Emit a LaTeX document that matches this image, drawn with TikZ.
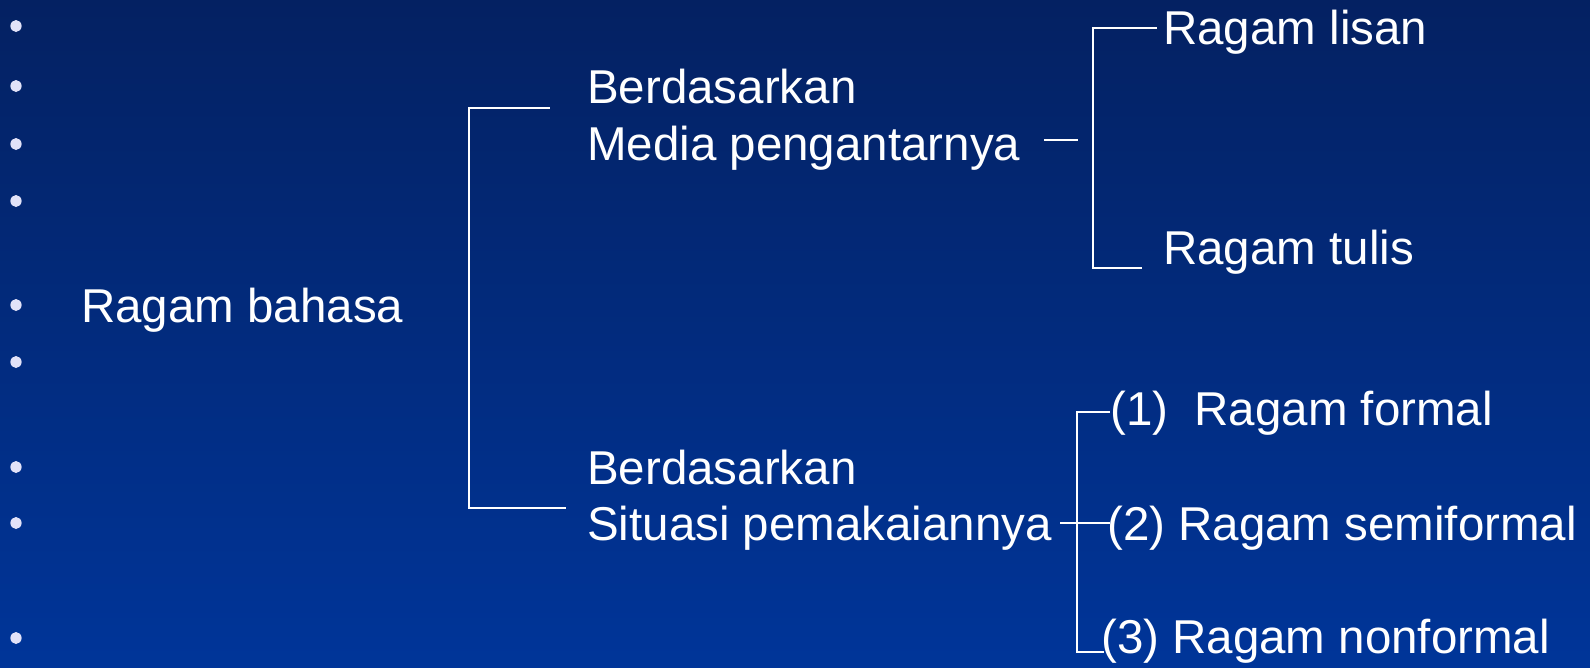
\documentclass[tikz,border=0pt]{standalone}
\usepackage{fontspec}
\setmainfont{Liberation Sans}
\definecolor{bgtop}{RGB}{4,33,98}
\definecolor{bgbot}{RGB}{0,53,153}
\definecolor{bulletc}{RGB}{226,226,248}
\begin{document}
\begin{tikzpicture}[x=1pt,y=-1pt,
  lbl/.style={anchor=base west,inner sep=0pt,text=white,font=\fontsize{47.5}{57}\selectfont},
  link/.style={draw=white,line width=2.3pt,line cap=rect},
  dot/.style={fill=bulletc}]
\shade[top color=bgtop,bottom color=bgbot] (0,0) rectangle (1590,667);
\useasboundingbox (0,0) rectangle (1590,667);
% bullets
\foreach \y in {26,86,144,201,305,362,467,523,638}
  \fill[dot] (16,\y) ellipse [x radius=5.6pt, y radius=6pt];
% texts
\node[lbl] (root) at (81,322) {Ragam bahasa};
\node[lbl] (m1) at (587,103) {Berdasarkan};
\node[lbl] (m2) at (587,160) {Media pengantarnya};
\node[lbl] (s1) at (587,484) {Berdasarkan};
\node[lbl] (s2) at (587,540) {Situasi pemakaiannya};
\node[lbl] (lisan) at (1163,44) {Ragam lisan};
\node[lbl] (tulis) at (1163,264) {Ragam tulis};
\node[lbl] (f1) at (1110,425) {(1)\ \ Ragam formal};
\node[lbl] (f2) at (1107,540) {(2) Ragam semiformal};
\node[lbl] (f3) at (1101,653) {(3) Ragam nonformal};
% connector coordinates
\coordinate (a1) at (549,108);
\coordinate (a2) at (469,108);
\coordinate (a3) at (469,508);
\coordinate (a4) at (565,508);
\coordinate (b0) at (1045,140);
\coordinate (b0e) at (1077,140);
\coordinate (b1) at (1156,28);
\coordinate (b2) at (1093,28);
\coordinate (b3) at (1093,268);
\coordinate (b4) at (1141,268);
\coordinate (c0) at (1061,523);
\coordinate (c0e) at (1109,523);
\coordinate (c1) at (1109,412);
\coordinate (c2) at (1077,412);
\coordinate (c3) at (1077,652);
\coordinate (c4) at (1103,652);
% brackets
\draw[link] (a1) -- (a2) -- (a3) -- (a4);
\draw[link] (b0) -- (b0e);
\draw[link] (b1) -- (b2) -- (b3) -- (b4);
\draw[link] (c0) -- (c0e);
\draw[link] (c1) -- (c2) -- (c3) -- (c4);
\end{tikzpicture}
\end{document}
